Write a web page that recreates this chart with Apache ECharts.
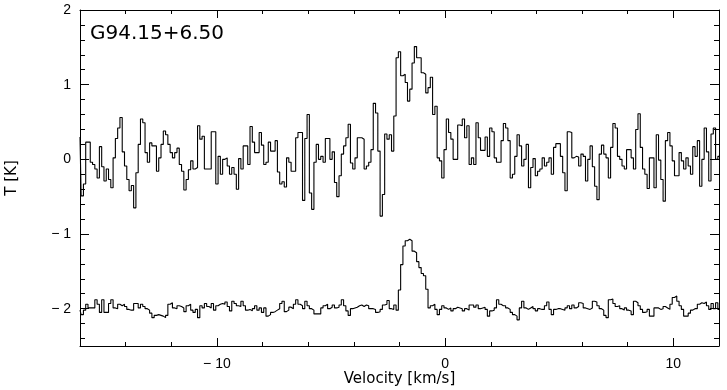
<!DOCTYPE html>
<html>
<head>
<meta charset="utf-8">
<script src="https://cdn.jsdelivr.net/npm/echarts@6/dist/echarts.min.js"></script>
<style>
html, body { margin: 0; padding: 0; background: #fff; }
#main { width: 727px; height: 390px; }
</style>
</head>
<body>
<div id="main"></div>
<script>
// channel grid of both spectra (km/s)
var velStart = -16.0;
var chanWidth = 0.1;

// upper spectrum, T [K]
var upperSpec = [
  0.30, -0.49, -0.33, 0.23, 0.23, -0.04, -0.07, -0.13, -0.25, 0.17,
  -0.10, -0.29, -0.13, -0.27, -0.38, 0.02, 0.28, 0.42, 0.56, 0.10,
  -0.09, -0.27, -0.42, -0.35, -0.65, -0.18, 0.20, 0.54, 0.49, 0.09,
  -0.04, 0.22, 0.18, 0.18, -0.16, 0.02, 0.20, 0.38, 0.33, 0.20,
  0.09, 0.02, 0.09, 0.15, -0.07, -0.16, -0.41, -0.27, -0.14, -0.02,
  -0.13, -0.11, 0.45, 0.27, 0.31, -0.13, -0.13, -0.13, 0.37, 0.37,
  -0.33, 0.04, -0.20, 0.00, 0.02, -0.09, -0.20, -0.11, -0.20, -0.40,
  0.01, -0.13, 0.18, 0.18, -0.07, 0.44, 0.23, 0.09, 0.09, 0.36,
  0.19, -0.07, -0.04, 0.23, 0.11, 0.11, 0.25, -0.17, -0.33, -0.30,
  -0.37, 0.02, -0.04, -0.16, -0.16, 0.29, 0.36, 0.36, -0.55, 0.28,
  0.60, -0.45, -0.67, -0.04, 0.20, 0.00, 0.04, -0.04, 0.28, 0.28,
  0.00, 0.10, -0.31, -0.50, -0.22, 0.07, 0.18, 0.29, 0.47, -0.05,
  -0.13, 0.02, 0.29, 0.29, 0.27, -0.13, -0.09, -0.04, 0.13, 0.75,
  0.62, 0.11, -0.76, -0.47, 0.34, 0.27, 0.33, 0.11, 0.58,
  1.36, 1.44, 1.12, 1.14, 1.03, 0.78, 0.94, 1.29, 1.51, 1.36,
  1.36, 1.16, 1.14, 0.89, 0.96, 1.10, 0.60, 0.71, 0.02, -0.02,
  -0.25, 0.13, 0.54, 0.36, 0.27, 0.00, 0.00, 0.46,
  0.45, 0.54, 0.29, 0.45, -0.07, 0.02, -0.07, 0.49, 0.29, 0.12,
  0.12, 0.30, 0.04, 0.42, 0.37, 0.02, -0.04, -0.04, 0.25, 0.48,
  0.42, 0.25, -0.25, -0.20, 0.04, 0.33, 0.18, -0.09, 0.00, 0.20,
  -0.38, -0.11, 0.01, -0.22, -0.16, -0.13, 0.02, -0.09, -0.04, 0.02,
  -0.20, 0.16, 0.21, 0.21, 0.04, -0.18, -0.42, 0.37, 0.36, 0.02,
  0.04, 0.03, -0.09, 0.07, 0.04, -0.29, 0.00,
  0.18, -0.10, -0.36, -0.54, 0.07, 0.19, 0.07, 0.02, -0.25, 0.16,
  0.48, 0.42, 0.04, 0.00, -0.09, -0.13, 0.13, 0.13, 0.02, -0.13,
  0.40, 0.61, 0.16, -0.13, -0.20, -0.39, 0.02, 0.02, -0.38, 0.33,
  -0.01, -0.27, -0.56, 0.25, 0.36, 0.18, -0.02, -0.22, -0.22, 0.09,
  -0.02, -0.13, 0.02, -0.09, -0.20, 0.17, 0.04, 0.25, -0.36, 0.00,
  0.42, 0.10, -0.29, 0.34, 0.42, 0.00, 0.04
];

// lower spectrum, as plotted (shifted to -2 K)
var lowerSpec = [
  -2.02, -2.08, -2.02, -1.94, -1.99, -1.99, -1.99, -1.88, -1.94, -2.05,
  -1.88, -2.05, -2.05, -1.93, -1.88, -1.99, -2.00, -1.94, -1.96, -1.94,
  -1.97, -2.01, -2.02, -2.02, -1.93, -1.93, -1.99, -1.94, -1.97, -2.00,
  -2.02, -2.06, -2.12, -2.09, -2.08,
  -2.09, -2.10, -2.12, -2.09, -1.94,
  -1.92, -1.99, -2.00, -1.96, -1.97, -1.99, -2.04, -1.96, -1.94, -2.02,
  -2.05, -2.01, -2.12, -1.96, -1.99, -1.93, -1.97, -1.99, -1.93, -2.02,
  -1.96, -1.94, -1.93, -1.94, -1.91, -1.97, -2.03, -1.90, -1.93, -1.96,
  -1.97, -1.90, -1.96, -2.02, -2.01,
  -2.03, -2.00, -1.96, -2.02, -1.99, -2.05, -1.99, -2.10, -2.08, -2.05,
  -2.04, -2.02, -2.00, -1.93, -1.90, -2.04, -2.02, -1.98, -2.00, -1.94,
  -1.88, -1.94, -1.96, -2.00, -1.90, -1.96, -2.00, -2.02, -2.07, -2.07,
  -2.07,
  -1.99, -1.96, -1.94, -2.00, -1.98, -1.95, -1.99, -1.98, -1.95, -1.88,
  -1.96, -2.03, -2.09, -2.00, -1.99, -1.98, -1.96, -1.95, -1.97, -1.95,
  -1.96, -2.00, -2.00, -2.01, -2.05, -2.04, -2.01, -1.95, -1.94, -1.89,
  -2.00, -2.01, -1.95, -2.02,
  -1.75, -1.41, -1.16, -1.09, -1.07, -1.09, -1.23, -1.25, -1.37, -1.45,
  -1.53, -1.56, -1.74, -1.99, -1.96, -1.94, -2.01, -2.08, -2.01, -1.96,
  -1.99, -2.01, -1.99,
  -2.03, -2.00, -1.98, -1.99, -2.00, -2.03, -2.00, -2.02, -1.95, -1.95,
  -1.98, -1.95, -2.00, -1.99, -1.98,
  -2.01, -2.10, -2.03, -2.02, -1.99, -1.88, -1.94, -1.96, -1.96, -1.99,
  -2.01, -2.05, -2.08, -2.10, -2.15, -1.99, -1.90, -1.99, -2.01, -1.99,
  -1.97, -2.00, -2.03, -2.00, -2.01, -2.01, -1.96, -1.91, -2.01, -2.08,
  -2.01, -2.00, -2.00, -2.01, -2.02, -1.99, -1.96, -2.00, -1.95, -1.99,
  -1.97, -1.92, -1.93, -1.99, -2.00, -2.01, -1.99, -1.90, -1.91, -1.96,
  -2.00, -2.02, -2.09, -2.12, -1.88, -1.87, -1.93, -1.97, -1.96, -2.00,
  -2.02, -1.99, -2.02, -2.03, -2.08, -1.90, -1.92, -1.96, -2.01, -2.05,
  -2.04, -2.01, -2.10, -2.10, -1.99, -1.99, -2.01, -2.00, -1.97, -1.99,
  -2.01, -1.94, -1.85, -1.83, -1.90, -1.96, -2.01, -2.10, -2.10, -2.06,
  -2.02, -2.00, -2.00, -1.94, -1.92, -1.93, -1.91, -1.96, -2.01, -1.93,
  -2.00, -1.92, -2.01
];

// ticks
var xMajor = [-10, 0, 10];
var xMinor = [-14, -12, -8, -6, -4, -2, 2, 4, 6, 8];
var yMajor = [-2, -1, 0, 1, 2];
var yMinor = [-2.4, -2.2, -1.8, -1.6, -1.4, -1.2, -0.8, -0.6, -0.4, -0.2,
              0.2, 0.4, 0.6, 0.8, 1.2, 1.4, 1.6, 1.8];
var sourceName = 'G94.15+6.50';

function toPoints(spec) {
    return spec.map(function (t, i) {
        return [Math.round((velStart + i * chanWidth) * 100) / 100, t];
    });
}

function minusFmt(v) {
    return v < 0 ? '\u2212 ' + Math.abs(v) : String(v);
}

function axis(position, lo, hi, ticks, len, extra) {
    var a = {
        type: 'value',
        position: position,
        min: lo,
        max: hi,
        axisLine: { show: true, onZero: false, lineStyle: { color: '#000', width: 1 } },
        axisTick: { show: true, inside: true, length: len, customValues: ticks,
                    lineStyle: { color: '#000', width: 1 } },
        axisLabel: { show: false },
        splitLine: { show: false }
    };
    return Object.assign(a, extra || {});
}

var labelStyle = { fontFamily: 'Liberation Sans', fontSize: 14, color: '#000' };
var nameStyle = { fontFamily: 'DejaVu Sans', fontSize: 15, color: '#000' };

var myChart = echarts.init(document.getElementById('main'));
myChart.setOption({
    animation: false,
    backgroundColor: '#fff',
    title: {
        text: sourceName,
        left: 85,
        top: 19,
        textStyle: { fontFamily: 'DejaVu Sans', fontSize: 20, fontWeight: 'normal', color: '#000' }
    },
    grid: { left: 80, right: 8, top: 10, bottom: 44, containLabel: false, outerBoundsMode: 'none' },
    xAxis: [
        axis('bottom', -16, 12, xMajor, 8, {
            axisLabel: Object.assign({ show: true, margin: 11, customValues: xMajor, formatter: minusFmt }, labelStyle),
            name: 'Velocity [km/s]',
            nameLocation: 'middle',
            nameGap: 26,
            nameMoveOverlap: false,
            nameTextStyle: nameStyle
        }),
        axis('bottom', -16, 12, xMinor, 4, { axisLine: { show: false, onZero: false } }),
        axis('top', -16, 12, xMajor, 8),
        axis('top', -16, 12, xMinor, 4, { axisLine: { show: false, onZero: false } })
    ],
    yAxis: [
        axis('left', -2.5, 2, yMajor, 9, {
            axisLabel: Object.assign({ show: true, margin: 9, customValues: yMajor, formatter: minusFmt }, labelStyle),
            name: 'T [K]',
            nameLocation: 'middle',
            nameGap: 60,
            nameTextStyle: nameStyle
        }),
        axis('left', -2.5, 2, yMinor, 5, { axisLine: { show: false, onZero: false } }),
        axis('right', -2.5, 2, yMajor, 9),
        axis('right', -2.5, 2, yMinor, 5, { axisLine: { show: false, onZero: false } })
    ],
    series: [
        {
            name: 'upper',
            type: 'line',
            step: 'middle',
            showSymbol: false,
            symbol: 'none',
            xAxisIndex: 0,
            yAxisIndex: 0,
            lineStyle: { color: '#000', width: 1.1 },
            data: toPoints(upperSpec)
        },
        {
            name: 'lower',
            type: 'line',
            step: 'middle',
            showSymbol: false,
            symbol: 'none',
            xAxisIndex: 0,
            yAxisIndex: 0,
            lineStyle: { color: '#000', width: 1.1 },
            data: toPoints(lowerSpec)
        }
    ]
});
</script>
</body>
</html>
